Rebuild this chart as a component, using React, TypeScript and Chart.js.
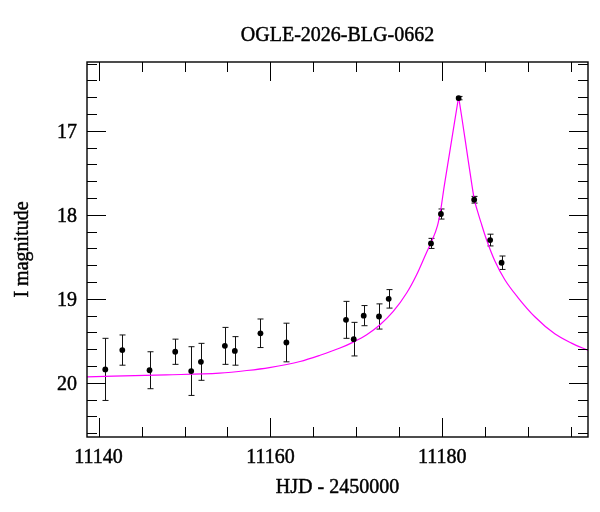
import React, { useEffect, useRef } from "react";
import { Chart, registerables } from "chart.js";

Chart.register(...registerables);

const TITLE = "OGLE-2026-BLG-0662";
const X_LABEL = "HJD - 2450000";
const Y_LABEL = "I magnitude";

// Observations
const obsHJD = [
  11140.78, 11142.76, 11145.93, 11148.92, 11150.78, 11151.91, 11154.7, 11155.86,
  11158.84, 11161.86, 11168.8, 11169.7, 11170.86, 11172.64, 11173.77, 11178.69,
  11179.85, 11181.91, 11183.72, 11185.58, 11186.91,
];
const obsMag = [
  19.84, 19.61, 19.85, 19.63, 19.86, 19.75, 19.56, 19.62, 19.41, 19.52, 19.25,
  19.48, 19.2, 19.21, 19.0, 18.34, 17.99, 16.61, 17.82, 18.3, 18.57,
];
const obsErr = [
  0.37, 0.18, 0.22, 0.15, 0.29, 0.22, 0.22, 0.17, 0.17, 0.23, 0.22, 0.2, 0.12,
  0.15, 0.11, 0.06, 0.06, 0.02, 0.04, 0.07, 0.08,
];

// Model curve: rising branch up to the peak, then declining branch
const modelRiseHJD = [
  11138.65, 11147.87, 11154.07, 11157.26, 11159.88, 11163.45, 11165.78, 11168.1,
  11169.65, 11171.21, 11172.76, 11174.3, 11175.86, 11177.02, 11178.19, 11178.69,
  11179.45, 11179.81, 11180.23, 11180.86, 11181.42, 11181.91,
];
const modelRiseMag = [
  19.928, 19.905, 19.884, 19.853, 19.818, 19.746, 19.672, 19.586, 19.515, 19.428,
  19.309, 19.15, 18.931, 18.713, 18.445, 18.334, 18.129, 17.95, 17.66, 17.262,
  16.905, 16.595,
];
const modelFallHJD = [
  11181.91, 11182.26, 11182.84, 11183.42, 11183.74, 11184.09, 11184.5, 11185.16,
  11186.13, 11187.29, 11188.84, 11190.78, 11193.1, 11195.05, 11196.98,
];
const modelFallMag = [
  16.595, 16.826, 17.223, 17.62, 17.819, 17.95, 18.087, 18.296, 18.549, 18.772,
  18.987, 19.213, 19.416, 19.527, 19.613,
];

// Axis ticks
const xMajorTicks = [11140, 11160, 11180];
const xMinorTicks = [
  11140, 11145, 11150, 11155, 11160, 11165, 11170, 11175, 11180, 11185, 11190, 11195,
];
const yMajorTicks = [17, 18, 19, 20];
const yMinorTicks = [
  16.2, 16.4, 16.6, 16.8, 17, 17.2, 17.4, 17.6, 17.8, 18, 18.2, 18.4, 18.6, 18.8,
  19, 19.2, 19.4, 19.6, 19.8, 20, 20.2, 20.4, 20.6,
];
const X_MIN = 11138.65;
const X_MAX = 11196.97;
const Y_MIN = 16.18;
const Y_MAX = 20.645;

const FONT = '"Liberation Serif", "Times New Roman", serif';

function boldText(ctx: CanvasRenderingContext2D, s: string, x: number, y: number) {
  ctx.fillText(s, x, y);
  ctx.strokeText(s, x, y);
}

const framePlugin = {
  id: "framePlugin",
  beforeDatasetsDraw(chart: any) {
    const ctx = chart.ctx;
    const xs = chart.scales.x;
    const ys = chart.scales.y;
    ctx.save();
    ctx.strokeStyle = "#111";
    ctx.lineWidth = 1;
    for (let i = 0; i < obsHJD.length; i++) {
      const x = Math.round(xs.getPixelForValue(obsHJD[i])) + 0.5;
      const y1 = ys.getPixelForValue(obsMag[i] - obsErr[i]);
      const y2 = ys.getPixelForValue(obsMag[i] + obsErr[i]);
      ctx.beginPath();
      ctx.moveTo(x, y1);
      ctx.lineTo(x, y2);
      ctx.moveTo(x - 3, y1);
      ctx.lineTo(x + 3, y1);
      ctx.moveTo(x - 3, y2);
      ctx.lineTo(x + 3, y2);
      ctx.stroke();
    }
    ctx.restore();
  },
  afterDraw(chart: any) {
    const ctx = chart.ctx;
    const { left, right, top, bottom } = chart.chartArea;
    const xs = chart.scales.x;
    const ys = chart.scales.y;
    const MAJ = 19;
    const MIN = 10;
    ctx.save();
    ctx.strokeStyle = "#000";
    ctx.lineWidth = 1;
    ctx.beginPath();
    for (const v of xMinorTicks) {
      const len = xMajorTicks.includes(v) ? MAJ : MIN;
      const x = Math.round(xs.getPixelForValue(v)) + 0.5;
      ctx.moveTo(x, bottom);
      ctx.lineTo(x, bottom - len);
      ctx.moveTo(x, top);
      ctx.lineTo(x, top + len);
    }
    for (const v of yMinorTicks) {
      const len = yMajorTicks.includes(v) ? MAJ : MIN;
      const y = Math.round(ys.getPixelForValue(v)) + 0.5;
      ctx.moveTo(left, y);
      ctx.lineTo(left + len, y);
      ctx.moveTo(right, y);
      ctx.lineTo(right - len, y);
    }
    ctx.stroke();
    ctx.lineWidth = 1.4;
    ctx.strokeRect(left, top, right - left, bottom - top);

    ctx.fillStyle = "#000";
    ctx.strokeStyle = "#000";
    ctx.lineWidth = 0.45;
    ctx.font = `20px ${FONT}`;
    ctx.textBaseline = "alphabetic";
    ctx.textAlign = "right";
    for (const v of yMajorTicks) {
      const y = ys.getPixelForValue(v);
      boldText(ctx, String(v), left - 10, y + 7);
    }
    ctx.textAlign = "center";
    for (const v of xMajorTicks) {
      const x = xs.getPixelForValue(v);
      boldText(ctx, String(v), x, bottom + 26);
    }
    boldText(ctx, X_LABEL, (left + right) / 2, bottom + 56);
    boldText(ctx, TITLE, (left + right) / 2, top - 21);

    ctx.save();
    ctx.translate(28, (top + bottom) / 2);
    ctx.rotate(-Math.PI / 2);
    ctx.textAlign = "center";
    boldText(ctx, Y_LABEL, 0, 0);
    ctx.restore();
    ctx.restore();
  },
};

export default function App() {
  const ref = useRef<HTMLCanvasElement | null>(null);
  useEffect(() => {
    if (!ref.current) return;
    const modelStyle = {
      showLine: true,
      pointRadius: 0,
      borderColor: "#ff00ff",
      borderWidth: 1.2,
      cubicInterpolationMode: "monotone" as const,
      order: 1,
    };
    const chart = new Chart(ref.current, {
      type: "scatter",
      data: {
        datasets: [
          {
            label: "data",
            data: obsHJD.map((t, i) => ({ x: t, y: obsMag[i] })),
            showLine: false,
            pointRadius: 2.9,
            pointBackgroundColor: "#000",
            pointBorderColor: "#000",
            pointBorderWidth: 0,
            order: 0,
          },
          {
            label: "model (rise)",
            data: modelRiseHJD.map((t, i) => ({ x: t, y: modelRiseMag[i] })),
            ...modelStyle,
          },
          {
            label: "model (decline)",
            data: modelFallHJD.map((t, i) => ({ x: t, y: modelFallMag[i] })),
            ...modelStyle,
          },
        ],
      },
      options: {
        responsive: false,
        animation: false,
        layout: { padding: { left: 87, top: 62, right: 12, bottom: 75 } },
        plugins: {
          legend: { display: false },
          tooltip: { enabled: false },
          title: { display: false },
        },
        scales: {
          x: { type: "linear", min: X_MIN, max: X_MAX, display: false },
          y: { type: "linear", min: Y_MIN, max: Y_MAX, reverse: true, display: false },
        },
      },
      plugins: [framePlugin],
    });
    return () => chart.destroy();
  }, []);
  return (
    <div style={{ position: "fixed", left: 0, top: 0, width: 600, height: 512, background: "#fff" }}>
      <canvas ref={ref} width={600} height={512} style={{ display: "block" }} />
    </div>
  );
}
